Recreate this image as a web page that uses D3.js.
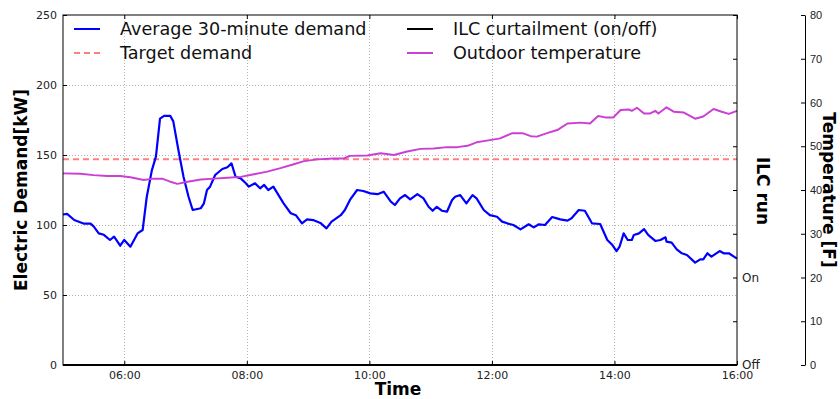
<!DOCTYPE html>
<html>
<head>
<meta charset="utf-8">
<script src="https://cdn.jsdelivr.net/npm/d3@7"></script>
<style>
  body { margin: 0; background: #fff; }
  svg { display: block; font-family: "DejaVu Sans", sans-serif; }
  .tick text { fill: #222; }
</style>
</head>
<body>
<svg id="chart" width="840" height="399"></svg>
<script>
// demand, 30-minute average (kW)
var demandTimes = ["05:00","05:04","05:11","05:20","05:27","05:30","05:35","05:40","05:46","05:50","05:56",
  "06:00","06:06","06:13","06:18","06:22","06:27","06:31","06:35","06:39","06:45","06:48","06:53","06:58",
  "07:03","07:07","07:15","07:18","07:21","07:24","07:29","07:36","07:41","07:45","07:49","07:54","07:59",
  "08:02","08:08","08:13","08:17","08:21","08:26","08:30","08:36","08:43","08:48","08:54","08:59",
  "09:05","09:12","09:18","09:23","09:32","09:36","09:41","09:48","09:54",
  "10:01","10:08","10:14","10:21","10:25","10:30","10:35","10:40","10:47","10:53","10:58",
  "11:02","11:06","11:11","11:16","11:21","11:24","11:29","11:35","11:41","11:45","11:52","11:58",
  "12:05","12:10","12:15","12:21","12:28","12:36","12:41","12:46","12:52","12:59",
  "13:07","13:14","13:18","13:25","13:31","13:38","13:46","13:53","13:58",
  "14:02","14:05","14:09","14:13","14:17","14:19","14:24","14:29","14:33","14:40","14:45","14:50","14:51","14:56",
  "15:01","15:06","15:11","15:19","15:24","15:27","15:31","15:35","15:43","15:47","15:52","16:00"];
var demandValues = [107.5,108,103.6,101,101,99,94,93,89.3,91.7,85.2,
  89.3,84.5,94,96.4,120,139,148.8,176,178,178,174,153.6,134.5,
  120,110.7,112,115.5,125,127.4,135.7,140,141.2,144,134.5,133.3,129.8,
  127.4,129.8,126.2,128.6,125,127.4,122.6,115.5,108.4,107,101.2,104,
  103.5,101.5,97.6,102.4,107,110.7,117.9,125,124.3,
  122.6,122,123.8,116.7,114.3,119,121.4,118.3,122,119,113,
  110.2,113,110.2,109.5,117.9,120.2,121.4,115.5,121.4,119,110.7,107,
  105.9,102.4,101.2,100,96.9,100.5,98.3,100.5,100,105.7,
  104,103.1,104.8,110.7,110.2,101.2,100.7,89.3,85.7,
  81.4,84.5,94,89.3,89.3,92.9,94,97.1,92.9,88.6,89.3,91.2,88.1,87.4,
  82.6,79.8,78.6,73.1,75.5,75.5,79.8,77.4,81.4,79.8,79.8,76];

var targetDemand = 147;

// ILC curtailment state (0 = off, 1 = on)
var ilcTimes = ["05:00","16:00"];
var ilcState = [0, 0];

// outdoor temperature (F)
var tempTimes = ["05:00","05:17","05:30","05:43","05:56","06:06","06:19","06:29","06:37","06:45","06:52",
  "07:02","07:15","07:28","07:41","07:54","08:07","08:20","08:33","08:46","08:56","09:09","09:25","09:35","09:41","09:58",
  "10:11","10:24","10:37","10:50","11:03","11:16","11:26","11:36","11:45","11:58","12:08","12:20","12:30","12:38","12:44","12:54",
  "13:04","13:14","13:27","13:36","13:44","13:51","13:59","14:06","14:14","14:17","14:22","14:29","14:35","14:40","14:43","14:51","14:58",
  "15:08","15:19","15:27","15:37","15:45","15:52","16:00"];
var tempValues = [43.8,43.7,43.4,43.2,43.2,42.9,42.3,42.6,42.6,41.9,41.4,
  41.9,42.4,42.6,42.8,43,43.6,44.2,45,45.9,46.6,47,47.2,47.2,47.8,47.9,
  48.4,48,48.8,49.4,49.5,49.8,49.8,50.1,50.9,51.4,51.8,53,53,52.3,52.2,53,
  53.7,55.2,55.4,55.2,56.9,56.6,56.6,58.3,58.4,58.1,58.8,57.5,57.5,58.1,57.5,58.9,57.9,
  57.7,56.3,56.8,58.5,57.9,57.4,58.1];

var xTickLabels = ["06:00","08:00","10:00","12:00","14:00","16:00"];
var demandTicks = [0, 50, 100, 150, 200, 250];
var tempTicks = [0, 10, 20, 30, 40, 50, 60, 70, 80];
var ilcTicks = [0, 0.5, 1, 1.5, 2, 2.5, 3, 3.5, 4];
var ilcNames = {0: "Off", 1: "On"};

var legendItems = [
  {name: "Average 30-minute demand", color: "#0000ff", dash: null},
  {name: "Target demand", color: "#ff7f7f", dash: "6,4"},
  {name: "ILC curtailment (on/off)", color: "#000000", dash: null},
  {name: "Outdoor temperature", color: "#cc3fd4", dash: null}
];

var parseT = d3.timeParse("%H:%M");
var svg = d3.select("#chart");
var plotL = 63, plotR = 737, plotT = 15, plotB = 365;

var x = d3.scaleTime().domain([parseT("05:00"), parseT("16:00")]).range([plotL, plotR]);
var y = d3.scaleLinear().domain([0, 250]).range([plotB, plotT]);
var yT = d3.scaleLinear().domain([0, 80]).range([plotB, plotT]);
var yI = d3.scaleLinear().domain([0, 4]).range([plotB, plotT]);

// grid
var grid = svg.append("g").attr("stroke", "#b4b4b4").attr("stroke-width", 1).attr("stroke-dasharray", "1,2");
grid.selectAll("line.gx").data(xTickLabels.slice(0, -1)).enter().append("line")
  .attr("x1", function (d) { return Math.round(x(parseT(d))) + 0.5; })
  .attr("x2", function (d) { return Math.round(x(parseT(d))) + 0.5; })
  .attr("y1", plotT).attr("y2", plotB);
grid.selectAll("line.gy").data(demandTicks.slice(1, -1)).enter().append("line")
  .attr("x1", plotL).attr("x2", plotR)
  .attr("y1", function (d) { return Math.round(y(d)) + 0.5; })
  .attr("y2", function (d) { return Math.round(y(d)) + 0.5; });

// lines
var demand = demandTimes.map(function (t, i) { return {t: parseT(t), v: demandValues[i]}; });
var temp = tempTimes.map(function (t, i) { return {t: parseT(t), v: tempValues[i]}; });
var ilc = ilcTimes.map(function (t, i) { return {t: parseT(t), v: ilcState[i]}; });

svg.append("line")
  .attr("x1", plotL).attr("x2", plotR)
  .attr("y1", y(targetDemand)).attr("y2", y(targetDemand))
  .attr("stroke", "#ff7f7f").attr("stroke-width", 2).attr("stroke-dasharray", "6,4");

svg.append("path").datum(demand)
  .attr("fill", "none").attr("stroke", "#0000ff").attr("stroke-width", 2.2).attr("stroke-linejoin", "round")
  .attr("d", d3.line().x(function (d) { return x(d.t); }).y(function (d) { return y(d.v); }));

svg.append("path").datum(temp)
  .attr("fill", "none").attr("stroke", "#cc3fd4").attr("stroke-width", 2).attr("stroke-linejoin", "round")
  .attr("d", d3.line().x(function (d) { return x(d.t); }).y(function (d) { return yT(d.v); }));

// frame
svg.append("rect").attr("x", plotL).attr("y", plotT).attr("width", plotR - plotL).attr("height", plotB - plotT)
  .attr("fill", "none").attr("stroke", "#000").attr("stroke-width", 1);

svg.append("path").datum(ilc)
  .attr("fill", "none").attr("stroke", "#000").attr("stroke-width", 2)
  .attr("d", d3.line().x(function (d) { return x(d.t); }).y(function (d) { return yI(d.v); }));

// axes
function styleAxis(g) {
  g.select(".domain").remove();
  g.selectAll(".tick line").attr("stroke", "#000");
  g.selectAll(".tick text").attr("font-size", "11px").attr("font-family", "DejaVu Sans");
}

svg.append("g").attr("transform", "translate(0," + plotB + ")")
  .call(d3.axisBottom(x).tickValues(xTickLabels.map(parseT)).tickFormat(d3.timeFormat("%H:%M")).tickSize(-4).tickPadding(6))
  .call(styleAxis);
svg.append("g").attr("transform", "translate(0," + plotT + ")")
  .call(d3.axisTop(x).tickValues(xTickLabels.map(parseT)).tickFormat("").tickSize(-4))
  .call(styleAxis);
svg.append("g").attr("transform", "translate(" + plotL + ",0)")
  .call(d3.axisLeft(y).tickValues(demandTicks).tickSize(-4).tickPadding(6))
  .call(styleAxis);
svg.append("g").attr("transform", "translate(" + plotR + ",0)")
  .call(d3.axisRight(yI).tickValues(ilcTicks).tickSize(-4).tickPadding(5)
    .tickFormat(function (d) { return ilcNames[d] || ""; }))
  .call(styleAxis);
svg.selectAll(".tick text").filter(function () { return this.textContent == "Off" || this.textContent == "On"; })
  .attr("font-size", "12px");

var tAxis = svg.append("g").attr("transform", "translate(805,0)")
  .call(d3.axisRight(yT).tickValues(tempTicks).tickSize(-4).tickPadding(5).tickSizeOuter(0));
tAxis.select(".domain").attr("stroke", "#000");
tAxis.selectAll(".tick text").attr("font-size", "11px");

// axis titles
svg.append("text").attr("x", 398).attr("y", 395).attr("text-anchor", "middle")
  .attr("font-size", "17px").attr("font-weight", "bold").text("Time");
svg.append("text").attr("transform", "translate(27,190) rotate(-90)").attr("text-anchor", "middle")
  .attr("font-size", "17px").attr("font-weight", "bold").text("Electric Demand[kW]");
svg.append("text").attr("transform", "translate(757,191) rotate(90)").attr("text-anchor", "middle")
  .attr("font-size", "17px").attr("font-weight", "bold").text("ILC run");
svg.append("text").attr("transform", "translate(823,190) rotate(90)").attr("text-anchor", "middle")
  .attr("font-size", "17px").attr("font-weight", "bold").text("Temperature [F]");

// legend, two columns
var legend = svg.append("g").selectAll("g").data(legendItems).enter().append("g")
  .attr("transform", function (d, i) {
    return "translate(" + (i < 2 ? 74 : 407) + "," + (29 + (i % 2) * 24) + ")";
  });
legend.append("line").attr("x1", 0).attr("x2", 26)
  .attr("stroke", function (d) { return d.color; }).attr("stroke-width", 2)
  .attr("stroke-dasharray", function (d) { return d.dash; });
legend.append("text").attr("x", 46).attr("y", 6).attr("font-size", "17.6px").attr("fill", "#111")
  .text(function (d) { return d.name; });
</script>
</body>
</html>
